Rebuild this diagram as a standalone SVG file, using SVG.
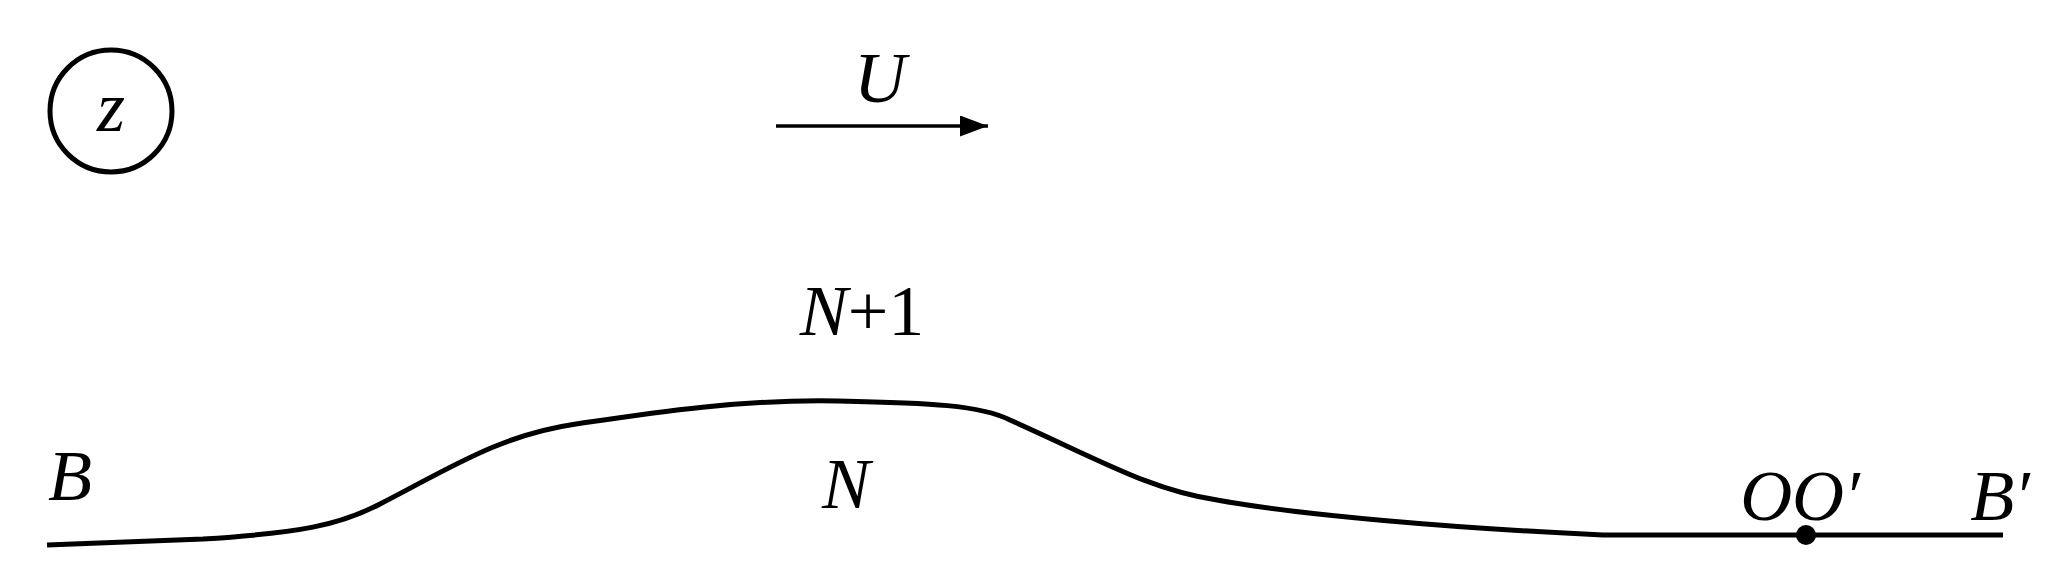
<svg xmlns="http://www.w3.org/2000/svg" width="2052" height="587" viewBox="0 0 2052 587">
<style>
.t{font-family:"Liberation Serif","Times New Roman",serif;font-style:italic;font-size:72px;fill:#000}
.l{fill:none;stroke:#000;stroke-width:5}
</style>
<defs><marker id="ah" markerWidth="8" markerHeight="6" refX="8" refY="3" orient="auto" markerUnits="strokeWidth"><path d="M0,0 L8,3 L0,6 Z" fill="#000"/></marker></defs>
<rect width="2052" height="587" fill="#fff"/>
<g id="zlabel"><circle cx="111" cy="111" r="61" class="l" stroke-width="3"/><text x="111" y="131" class="t" text-anchor="middle" font-size="60">z</text></g>
<g id="connectors">
<line x1="776" y1="126" x2="988" y2="126" stroke="#000" stroke-width="3.5" marker-end="url(#ah)"/>
<path class="l" d="M47,545 L203,539 C300,533 340,525 380,504 C450,468 500,435 576,424 C650,413 740,399 838,401 C930,403 980,405 1010,420 C1100,460 1150,490 1217,500 C1300,515 1450,528 1603,535 L2003,535"/>
<circle cx="1806" cy="535" r="10" fill="#000"/>
</g>
<g id="labels">
<text x="880" y="102" class="t" text-anchor="middle">U</text>
<text x="862" y="335" class="t" text-anchor="middle">N<tspan font-style="normal">+1</tspan></text>
<text x="846" y="508" class="t" text-anchor="middle">N</text>
<text x="70" y="500" class="t" text-anchor="middle">B</text>
<text x="1800" y="520" class="t" text-anchor="middle">OO′</text>
<text x="2000" y="520" class="t" text-anchor="middle">B′</text>
</g>
</svg>
